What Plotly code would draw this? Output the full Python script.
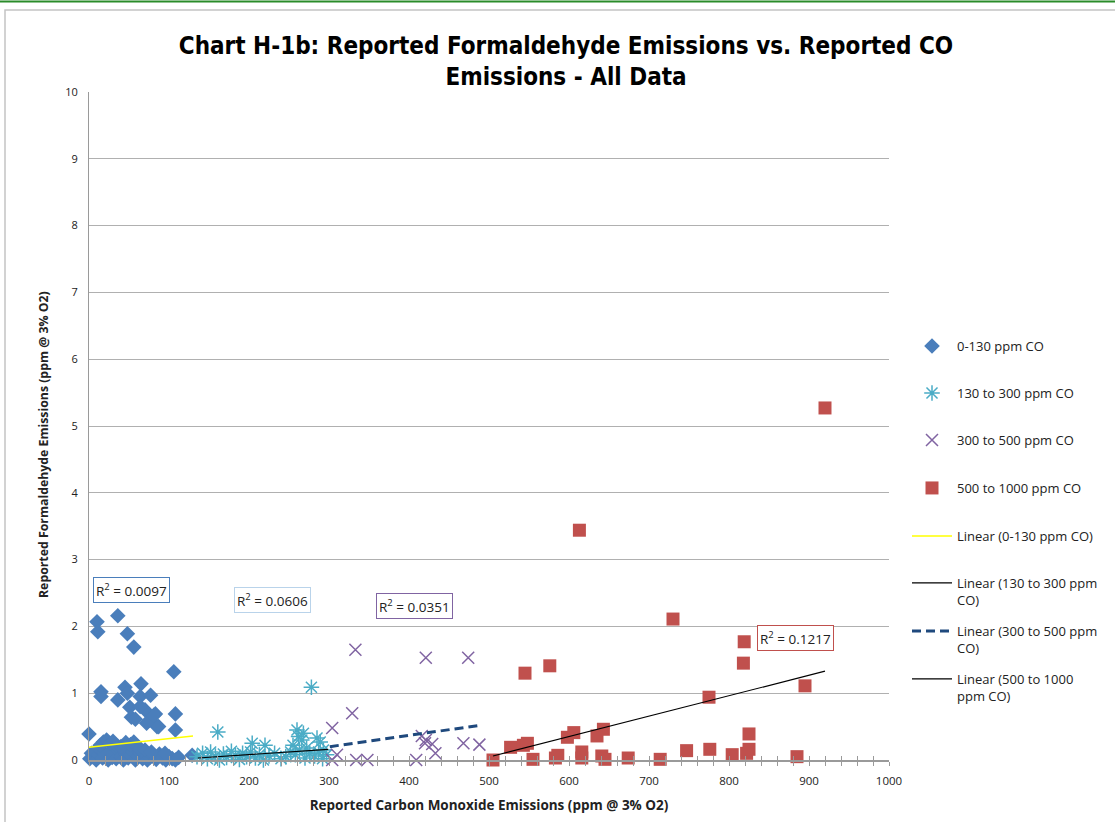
import plotly.graph_objects as go

# ---- series data: CO (ppm @ 3% O2) vs formaldehyde (ppm @ 3% O2) ----
co_0_130 = [10, 11, 36, 48, 56, 106, 15, 15, 36, 45, 48, 65, 64, 77, 51, 53, 70, 83, 72, 85,
            108, 108, 0, 58, 76, 81, 64, 87,
            1, 3, 5, 7, 9, 12, 14, 17, 19, 21, 24, 26, 29, 31, 34, 37, 40, 43, 46, 49, 52, 55,
            58, 61, 64, 67, 70, 73, 76, 80, 84, 88, 92, 96, 100, 104, 108, 112, 129,
            14, 18, 22, 26, 30, 34, 40, 46, 52, 56, 60, 64, 70, 78, 95]
hcho_0_130 = [2.07, 1.92, 2.16, 1.89, 1.69, 1.32, 1.02, 0.95, 0.90, 1.09, 1.00, 1.14, 0.95, 0.97,
              0.79, 0.64, 0.75, 0.69, 0.55, 0.50, 0.69, 0.45, 0.39, 0.61, 0.60, 0.67, 0.80, 0.50,
              0.02, 0.10, 0.05, 0.12, 0.00, 0.08, 0.15, 0.03, 0.10, 0.06, 0.00, 0.12, 0.04, 0.09,
              0.02, 0.14, 0.05, 0.00, 0.10, 0.03, 0.07, 0.12, 0.00, 0.05, 0.10, 0.02, 0.08, 0.00,
              0.04, 0.06, 0.01, 0.09, 0.03, 0.00, 0.05, 0.02, 0.00, 0.04, 0.07,
              0.22, 0.27, 0.30, 0.25, 0.28, 0.22, 0.20, 0.26, 0.23, 0.27, 0.20, 0.17, 0.15, 0.12, 0.10]

co_130_300 = [161, 278, 260, 266, 255, 272, 289, 293, 204, 220, 262, 268, 285,
              135, 142, 148, 152, 158, 163, 168, 172, 178, 183, 188, 192, 197, 202, 208, 213,
              218, 225, 232, 240, 246, 252, 258, 263, 270, 276, 282, 287, 292, 297]
hcho_130_300 = [0.42, 1.09, 0.45, 0.30, 0.22, 0.18, 0.27, 0.15, 0.25, 0.22, 0.35, 0.40, 0.33,
                0.05, 0.10, 0.02, 0.12, 0.06, 0.00, 0.09, 0.04, 0.13, 0.07, 0.01, 0.10, 0.05,
                0.12, 0.03, 0.08, 0.00, 0.06, 0.10, 0.02, 0.05, 0.12, 0.08, 0.15, 0.03, 0.10,
                0.06, 0.12, 0.02, 0.08]

co_300_500 = [333, 421, 474, 329, 304, 416, 420, 429, 433, 468, 488, 310, 304, 334, 348, 409, 421]
hcho_300_500 = [1.65, 1.53, 1.53, 0.70, 0.48, 0.36, 0.25, 0.24, 0.10, 0.25, 0.23, 0.08, 0.00,
                0.00, 0.00, 0.00, 0.30]

co_500_1000 = [505, 527, 543, 548, 555, 583, 586, 598, 606, 616, 616, 635, 643, 641, 645, 674,
               714, 545, 576, 613, 730, 747, 775, 776, 804, 818, 819, 822, 825, 825, 885, 895, 920]
hcho_500_1000 = [0.00, 0.19, 0.22, 0.25, 0.01, 0.03, 0.07, 0.34, 0.41, 0.12, 0.03, 0.36, 0.46,
                 0.06, 0.01, 0.03, 0.01, 1.30, 1.41, 3.44, 2.11, 0.14, 0.94, 0.16, 0.08, 1.45,
                 1.77, 0.10, 0.39, 0.16, 0.05, 1.11, 5.27]

# ---- linear trendlines (start/end of each fitted segment) and R² values ----
trend_names = ["Linear (0-130 ppm CO)", "Linear (130 to 300 ppm<br>CO)",
               "Linear (300 to 500 ppm<br>CO)", "Linear (500 to 1000<br>ppm CO)"]
trend_x0 = [0, 136, 301, 505]
trend_x1 = [130, 299, 489, 920]
trend_y0 = [0.19, 0.03, 0.20, 0.06]
trend_y1 = [0.36, 0.16, 0.52, 1.33]
r2_text = ["0.0097", "0.0606", "0.0351", "0.1217"]
r2_x = [52.5, 228.75, 406.25, 882.5]
r2_y = [2.545, 2.395, 2.305, 1.826]

x_ticks = [0, 100, 200, 300, 400, 500, 600, 700, 800, 900, 1000]
y_ticks = [0, 1, 2, 3, 4, 5, 6, 7, 8, 9, 10]

W, H = 1115, 822
FONT = "Open Sans, Noto Sans, sans-serif"
BLUE, CYAN, PURPLE, RED = "#4a7ebb", "#4bacc6", "#8064a2", "#c0504d"

fig = go.Figure()

fig.add_trace(go.Scatter(
    x=co_0_130, y=hcho_0_130, mode="markers", name="0-130 ppm CO", legend="legend",
    marker=dict(symbol="diamond", size=12, color=BLUE), cliponaxis=False))
fig.add_trace(go.Scatter(
    x=co_130_300, y=hcho_130_300, mode="markers", name="130 to 300 ppm CO", legend="legend2",
    marker=dict(symbol="asterisk-open", size=13, color=CYAN, line=dict(color=CYAN, width=1.5)),
    cliponaxis=False))
fig.add_trace(go.Scatter(
    x=co_300_500, y=hcho_300_500, mode="markers", name="300 to 500 ppm CO", legend="legend3",
    marker=dict(symbol="x-thin-open", size=12, color=PURPLE, line=dict(color=PURPLE, width=1.5)),
    cliponaxis=False))
fig.add_trace(go.Scatter(
    x=co_500_1000, y=hcho_500_1000, mode="markers", name="500 to 1000 ppm CO", legend="legend4",
    marker=dict(symbol="square", size=13, color=RED), cliponaxis=False))

trend_styles = [dict(color="#ffff00", width=1.5),
                dict(color="#000000", width=1.2),
                dict(color="#1f497d", width=3, dash="9px,5px"),
                dict(color="#000000", width=1.2)]
for i in range(4):
    fig.add_trace(go.Scatter(
        x=[trend_x0[i], trend_x1[i]], y=[trend_y0[i], trend_y1[i]], mode="lines",
        name=trend_names[i], legend="legend%d" % (i + 5), line=trend_styles[i],
        cliponaxis=False))

# crossing ticks on the x axis: an overlaid twin axis carries the inside half
fig.add_trace(go.Scatter(x=[0, 1000], y=[0, 0], mode="markers", xaxis="x2",
                         marker=dict(opacity=0), showlegend=False, hoverinfo="skip"))

r2_border = [BLUE, "#b9d3ea", PURPLE, RED]
for i in range(4):
    fig.add_annotation(
        x=r2_x[i], y=r2_y[i], xref="x", yref="y", showarrow=False,
        text="R<sup>2</sup> = " + r2_text[i], font=dict(family=FONT, size=13.5, color="#222"),
        bgcolor="white", bordercolor=r2_border[i], borderwidth=1, borderpad=2)

# y-axis title, placed as rotated text left of the tick labels
fig.add_annotation(
    x=(44 - 89) / 800, y=(760 - 445) / 668, xref="paper", yref="paper", showarrow=False,
    textangle=-90, xanchor="center", yanchor="middle",
    text="<b>Reported Formaldehyde Emissions (ppm @ 3% O2)</b>",
    font=dict(family=FONT, size=12.3, color="#222"))

# legend placement (one legend box per entry, stacked at fixed pitch)
leg_text_y = [346, 393, 440, 488, 536, 583, 631, 679]
legends = {}
for i, ty in enumerate(leg_text_y):
    key = "legend" if i == 0 else "legend%d" % (i + 1)
    legends[key] = dict(
        x=907 / W, y=1 - (ty - 15) / H, xref="container", yref="container",
        xanchor="left", yanchor="top", itemwidth=40, valign="top",
        bgcolor="rgba(0,0,0,0)", borderwidth=0,
        font=dict(family=FONT, size=13, color="#222"))

axis_font = dict(family=FONT, size=11.5, color="#222")
fig.update_layout(
    width=W, height=H,
    margin=dict(l=89, r=W - 889, t=92, b=H - 760, autoexpand=False),
    paper_bgcolor="white", plot_bgcolor="white",
    title=dict(
        text="Chart H-1b: Reported Formaldehyde Emissions vs. Reported CO<br>Emissions - All Data",
        x=566 / W, xanchor="center", y=1 - 54 / H, yanchor="top",
        font=dict(family="Liberation Sans Narrow, DejaVu Sans Condensed, Roboto Condensed, Open Sans, sans-serif",
                  size=24, color="#000", weight="bold")),
    xaxis=dict(
        range=[0, 1000], tickvals=x_ticks, ticktext=[str(v) for v in x_ticks],
        showgrid=False, zeroline=False, showline=True, linecolor="#9a9a9a", linewidth=1.5,
        ticks="outside", ticklen=4, tickcolor="#9a9a9a", tickfont=axis_font,
        ticklabelstandoff=5,
        minor=dict(dtick=20, ticks="outside", ticklen=4, tickcolor="#9a9a9a"),
        title=dict(text="<b>Reported Carbon Monoxide Emissions (ppm @ 3% O2)</b>",
                   font=dict(family=FONT, size=13.5, color="#222"), standoff=14),
        fixedrange=True),
    xaxis2=dict(
        range=[0, 1000], overlaying="x", side="bottom", anchor="y", showgrid=False,
        zeroline=False, showline=False, showticklabels=False, tickvals=x_ticks,
        ticks="inside", ticklen=4, tickcolor="#9a9a9a",
        minor=dict(dtick=20, ticks="inside", ticklen=4, tickcolor="#9a9a9a")),
    yaxis=dict(
        range=[0, 10], tickvals=y_ticks, ticktext=[str(v) for v in y_ticks],
        showgrid=True, gridcolor="#b0b0b0", gridwidth=1, zeroline=False,
        showline=True, linecolor="#9a9a9a", linewidth=1, ticks="", ticklabelstandoff=8,
        tickfont=dict(family=FONT, size=11, color="#222"),
        fixedrange=True),
    **legends,
    shapes=[
        # chart frame and top rule
        dict(type="rect", xref="paper", yref="paper",
             x0=(5 - 89) / 800, x1=(1125 - 89) / 800,
             y0=(760 - 830) / 668, y1=(760 - 10) / 668,
             line=dict(color="#c4c4c4", width=1.5), layer="below"),
        dict(type="line", xref="paper", yref="paper",
             x0=-0.2, x1=1.4, y0=(760 - 1.5) / 668, y1=(760 - 1.5) / 668,
             line=dict(color="#2a8c2a", width=2)),
    ],
    showlegend=True,
)

fig.write_html("out.html")
